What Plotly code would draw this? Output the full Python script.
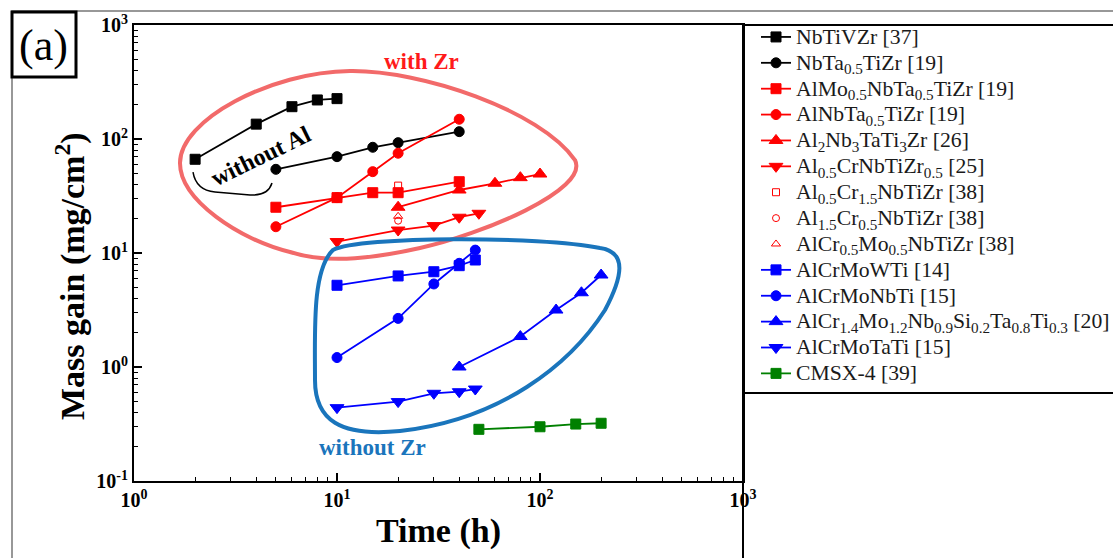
import plotly.graph_objects as go

# ---------------- data ----------------
t_nbtivzr = [2, 4, 6, 8, 10]
m_nbtivzr = [66.4, 135, 192, 220, 226]

t_nbta_tizr = [5, 10, 15, 20, 40]
m_nbta_tizr = [54.2, 70, 84.6, 92.9, 116]

t_almo_nbta = [5, 10, 15, 20, 40]
m_almo_nbta = [25.2, 30.6, 33.8, 33.8, 42.2]

t_alnbta = [5, 10, 15, 20, 40]
m_alnbta = [17.0, 30.6, 51.7, 75, 149]

t_al2nb3 = [20, 40, 60, 80, 100]
m_al2nb3 = [25.2, 35.7, 40.9, 45.8, 49.3]

t_al05cr = [10, 20, 30, 40, 50]
m_al05cr = [12.6, 15.9, 17.4, 20.6, 22.3]

t_al05cr15 = [20]
m_al05cr15 = [39]
t_al15cr05 = [20]
m_al15cr05 = [19.2]
t_alcr05mo05 = [20]
m_alcr05mo05 = [21]

t_alcrmowti = [10, 20, 30, 40, 48]
m_alcrmowti = [5.21, 6.29, 6.85, 7.74, 8.68]

t_alcrmonbti = [10, 20, 30, 40, 48]
m_alcrmonbti = [1.21, 2.67, 5.35, 8.12, 10.6]

t_alcr14 = [40, 80, 120, 160, 200]
m_alcr14 = [1.0, 1.85, 3.16, 4.48, 6.41]

t_alcrmotati = [10, 20, 30, 40, 48]
m_alcrmotati = [0.44, 0.497, 0.588, 0.607, 0.641]

t_cmsx4 = [50, 100, 150, 200]
m_cmsx4 = [0.284, 0.299, 0.316, 0.321]

names = [
    "NbTiVZr [37]",
    "NbTa<sub>0.5</sub>TiZr [19]",
    "AlMo<sub>0.5</sub>NbTa<sub>0.5</sub>TiZr [19]",
    "AlNbTa<sub>0.5</sub>TiZr [19]",
    "Al<sub>2</sub>Nb<sub>3</sub>TaTi<sub>3</sub>Zr [26]",
    "Al<sub>0.5</sub>CrNbTiZr<sub>0.5</sub> [25]",
    "Al<sub>0.5</sub>Cr<sub>1.5</sub>NbTiZr [38]",
    "Al<sub>1.5</sub>Cr<sub>0.5</sub>NbTiZr [38]",
    "AlCr<sub>0.5</sub>Mo<sub>0.5</sub>NbTiZr [38]",
    "AlCrMoWTi [14]",
    "AlCrMoNbTi [15]",
    "AlCr<sub>1.4</sub>Mo<sub>1.2</sub>Nb<sub>0.9</sub>Si<sub>0.2</sub>Ta<sub>0.8</sub>Ti<sub>0.3</sub> [20]",
    "AlCrMoTaTi [15]",
    "CMSX-4 [39]",
]

x_tickvals = [1, 10, 100, 1000]
x_ticktext = ["10<sup>0</sup>", "10<sup>1</sup>", "10<sup>2</sup>", "10<sup>3</sup>"]
y_tickvals = [0.1, 1, 10, 100, 1000]
y_ticktext = ["10<sup>-1</sup>", "10<sup>0</sup>", "10<sup>1</sup>", "10<sup>2</sup>", "10<sup>3</sup>"]

# ---------------- styling ----------------
FONT = "Liberation Serif"
BLACK, RED, BLUE, GREEN = "#000000", "#ff0000", "#0000ff", "#008000"
LEG_PX = 21.7

series = [
    (t_nbtivzr, m_nbtivzr, BLACK, "square", 10, True),
    (t_nbta_tizr, m_nbta_tizr, BLACK, "circle", 10, True),
    (t_almo_nbta, m_almo_nbta, RED, "square", 10, True),
    (t_alnbta, m_alnbta, RED, "circle", 10, True),
    (t_al2nb3, m_al2nb3, RED, "triangle-up", 12, True),
    (t_al05cr, m_al05cr, RED, "triangle-down", 12, True),
    (t_al05cr15, m_al05cr15, RED, "square-open", 7, False),
    (t_al15cr05, m_al15cr05, RED, "circle-open", 7, False),
    (t_alcr05mo05, m_alcr05mo05, RED, "triangle-up-open", 8, False),
    (t_alcrmowti, m_alcrmowti, BLUE, "square", 10, True),
    (t_alcrmonbti, m_alcrmonbti, BLUE, "circle", 10, True),
    (t_alcr14, m_alcr14, BLUE, "triangle-up", 12, True),
    (t_alcrmotati, m_alcrmotati, BLUE, "triangle-down", 12, True),
    (t_cmsx4, m_cmsx4, GREEN, "square", 10, True),
]

fig = go.Figure()
for (t, m, col, sym, sz, line), nm in zip(series, names):
    fig.add_trace(go.Scatter(
        x=t, y=m,
        mode="lines+markers" if line else "markers",
        name=f'<span style="font-size:{LEG_PX}px">{nm}</span>',
        line=dict(color=col, width=1.8),
        marker=dict(symbol=sym, size=sz, color=col,
                    line=dict(color=col, width=1)),
    ))

# pixel -> paper helpers (plot area in pixels)
L, R, T, B = 134, 743, 25, 481


def px(x):
    return (x - L) / (R - L)


def py(y):
    return (B - y) / (B - T)


def path(cmds):
    out = []
    for c in cmds:
        op, pts = c[0], c[1:]
        coords = " ".join(f"{px(pts[i]):.4f},{py(pts[i + 1]):.4f}" for i in range(0, len(pts), 2))
        out.append(f"{op} {coords}")
    return " ".join(out)


red_loop = path([
    ("M", 180, 163),
    ("C", 180, 120, 270, 72, 350, 71),
    ("C", 420, 70, 540, 110, 575, 160),
    ("C", 590, 190, 480, 235, 420, 248),
    ("C", 380, 257, 330, 265, 290, 252),
    ("C", 240, 240, 180, 200, 180, 163),
]) + " Z"

blue_loop = path([
    ("M", 333, 250),
    ("C", 360, 236, 540, 236, 600, 248),
    ("C", 628, 252, 622, 278, 605, 310),
    ("C", 570, 365, 500, 420, 400, 431),
    ("C", 340, 437, 315, 420, 315, 380),
    ("C", 315, 330, 312, 270, 333, 250),
]) + " Z"

bracket = path([
    ("M", 193, 172),
    ("Q", 196, 190, 215, 192),
    ("L", 250, 195),
    ("Q", 268, 196, 272, 183),
])

shapes = [
    dict(type="path", path=red_loop, xref="paper", yref="paper",
         line=dict(color="#f26a6a", width=4), layer="above"),
    dict(type="path", path=blue_loop, xref="paper", yref="paper",
         line=dict(color="#1a75bc", width=4), layer="above"),
    dict(type="path", path=bracket, xref="paper", yref="paper",
         line=dict(color="black", width=1.5), layer="above"),
    # outer frame
    dict(type="rect", xref="paper", yref="paper", x0=px(12), y0=py(11), x1=px(1140), y1=py(600),
         line=dict(color="#777777", width=1.5)),
    # (a) box
    dict(type="rect", xref="paper", yref="paper", x0=px(12), y0=py(12), x1=px(76), y1=py(77),
         line=dict(color="black", width=3), fillcolor="white"),
    # legend frame
    dict(type="line", xref="paper", yref="paper", x0=px(743), y0=py(25), x1=px(1140), y1=py(25),
         line=dict(color="black", width=2)),
    dict(type="line", xref="paper", yref="paper", x0=px(743), y0=py(25), x1=px(743), y1=py(600),
         line=dict(color="black", width=2)),
    dict(type="line", xref="paper", yref="paper", x0=px(743), y0=py(393), x1=px(1140), y1=py(393),
         line=dict(color="black", width=2)),
]

annotations = [
    dict(text="(a)", x=px(44), y=py(45), xref="paper", yref="paper", showarrow=False,
         font=dict(family=FONT, size=44, color="black"), xanchor="center", yanchor="middle"),
    dict(text="<b>with Zr</b>", x=px(421), y=py(61), xref="paper", yref="paper", showarrow=False,
         font=dict(family=FONT, size=23, color="#ff1a1a"), xanchor="center", yanchor="middle"),
    dict(text="<b>without Zr</b>", x=px(372), y=py(447), xref="paper", yref="paper", showarrow=False,
         font=dict(family=FONT, size=23, color="#1a75bc"), xanchor="center", yanchor="middle"),
    dict(text="<b>without Al</b>", x=px(261), y=py(156), xref="paper", yref="paper", showarrow=False,
         textangle=-26, font=dict(family=FONT, size=24, color="black"),
         xanchor="center", yanchor="middle"),
    dict(text="<b>Time (h)</b>", x=px(438), y=py(531), xref="paper", yref="paper", showarrow=False,
         font=dict(family=FONT, size=34, color="black"), xanchor="center", yanchor="middle"),
    dict(text="<b>Mass gain (mg/cm<sup>2</sup>)</b>", x=px(70), y=py(276), xref="paper", yref="paper",
         showarrow=False, textangle=-90,
         font=dict(family=FONT, size=34, color="black"), xanchor="center", yanchor="middle"),
]


def minor_vals(lo, hi):
    vals = []
    for e in range(lo, hi):
        for k in range(2, 10):
            vals.append(k * 10.0 ** e)
    return vals


axis_common = dict(
    type="log", tickmode="array",
    showgrid=False, zeroline=False,
    showline=True, linecolor="black", linewidth=2, mirror=True,
    ticks="inside", ticklen=8, tickwidth=1.5, tickcolor="black",
    tickfont=dict(family=FONT, size=20, color="black", weight="bold"),
)

fig.update_layout(
    width=1113, height=558,
    margin=dict(l=L, r=1113 - R, t=T, b=558 - B, autoexpand=False),
    paper_bgcolor="white", plot_bgcolor="white",
    xaxis=dict(range=[0, 3], tickvals=x_tickvals, ticktext=x_ticktext,
               minor=dict(tickmode="array", tickvals=minor_vals(0, 3), ticks="inside",
                          ticklen=4, tickwidth=1, tickcolor="black", showgrid=False),
               **axis_common),
    yaxis=dict(range=[-1, 3], tickvals=y_tickvals, ticktext=y_ticktext,
               minor=dict(tickmode="array", tickvals=minor_vals(-1, 3), ticks="inside",
                          ticklen=4, tickwidth=1, tickcolor="black", showgrid=False),
               **axis_common),
    showlegend=True,
    legend=dict(
        x=px(756), y=py(19), xanchor="left", yanchor="top",
        font=dict(family=FONT, size=17.6, color="#1a1a1a"),
        bgcolor="rgba(0,0,0,0)", borderwidth=0,
        itemsizing="trace", tracegroupgap=0, maxheight=540,
    ),
    shapes=shapes,
    annotations=annotations,
)

fig.write_html("out.html")
